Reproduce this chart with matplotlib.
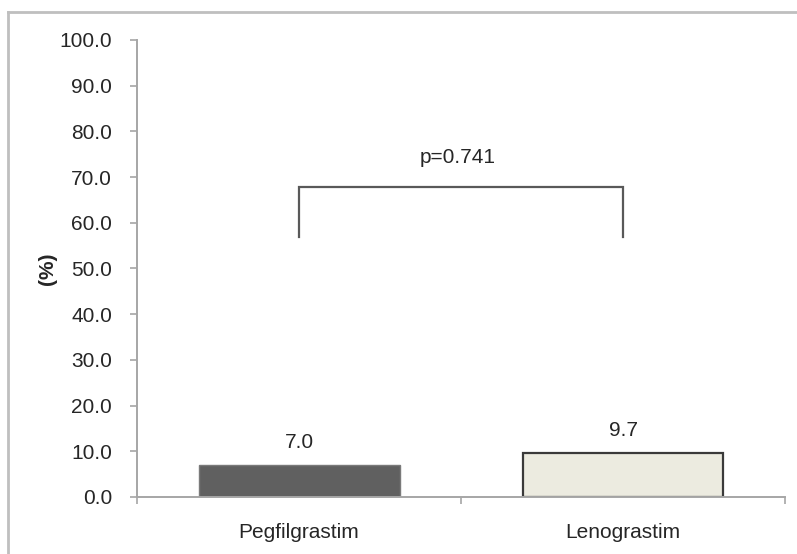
import matplotlib
matplotlib.use("Agg")
import matplotlib.pyplot as plt
from matplotlib.lines import Line2D

# data
groups = ["Pegfilgrastim", "Lenograstim"]
rates = [7.0, 9.7]
p_label = "p=0.741"
yticks = [0, 10, 20, 30, 40, 50, 60, 70, 80, 90, 100]

plt.rcParams['font.family'] = ['Liberation Sans Narrow', 'Liberation Sans', 'DejaVu Sans']
TXT = '#262626'
AXC = '#a6a6a6'

fig = plt.figure(figsize=(7.97, 5.54), dpi=100)
ax = fig.add_axes([0.172, 0.103, 0.813, 0.825])

x = list(range(len(groups)))
ax.bar(x[0], rates[0], width=0.62, color='#606060', edgecolor='#7a7a7a', linewidth=1.0)
ax.bar(x[1], rates[1], width=0.62, color='#ecebe0', edgecolor='#3a3a3a', linewidth=1.6)

for xi, v in zip(x, rates):
    ax.annotate(f'{v:.1f}', xy=(xi, v), xytext=(0, 9), textcoords='offset points',
                ha='center', va='bottom', fontsize=15, color=TXT)

# significance bracket
ax.plot([0, 0, 1, 1], [56.8, 67.8, 67.8, 56.8], color='#595959', linewidth=1.6,
        solid_joinstyle='miter')
ax.text(0.49, 74.2, p_label, ha='center', va='center', fontsize=15, color=TXT)

ax.set_xlim(-0.5, 1.5)
ax.set_ylim(0, 100)
ax.set_yticks(yticks)
ax.set_yticklabels([f'{t:.1f}' for t in yticks])
ax.set_xticks(x)
ax.set_xticklabels(groups)
ax.set_xticks([-0.5, 0.5, 1.5], minor=True)

ax.tick_params(axis='y', length=5, width=1.2, color=AXC, pad=13, labelsize=15, labelcolor=TXT)
ax.tick_params(axis='x', which='major', length=0, pad=19, labelsize=15, labelcolor=TXT)
ax.tick_params(axis='x', which='minor', length=5, width=1.2, color=AXC)

for s in ('top', 'right'):
    ax.spines[s].set_visible(False)
for s in ('left', 'bottom'):
    ax.spines[s].set_color(AXC)
    ax.spines[s].set_linewidth(1.4)

ax.set_ylabel('(%)', fontsize=15, fontweight='bold', color=TXT, labelpad=2)

# outer chart frame (clipped at right/bottom in the source)
fig.add_artist(Line2D([8 / 797, 8 / 797], [0, 1 - 12 / 554], transform=fig.transFigure,
                      color='#bfbfbf', linewidth=2))
fig.add_artist(Line2D([8 / 797, 1], [1 - 12 / 554, 1 - 12 / 554], transform=fig.transFigure,
                      color='#bfbfbf', linewidth=2))

fig.savefig('out.png', dpi=100)
